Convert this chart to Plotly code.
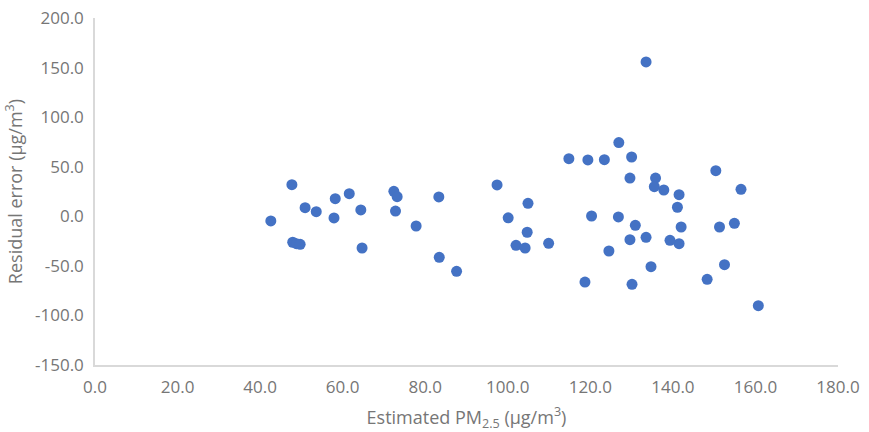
import plotly.graph_objects as go

# Estimated PM2.5 concentration (µg/m³) and residual error (µg/m³)
estimated_pm25 = [
    42.6, 47.7, 47.9, 48.8, 49.7, 50.9, 53.6, 58.2, 57.9, 61.6,
    64.4, 64.7, 72.4, 73.2, 72.8, 77.8, 83.3, 83.4, 87.6, 97.4,
    100.1, 102.0, 104.2, 104.9, 104.7, 109.9, 114.8, 119.4, 123.4, 126.9,
    130.0, 129.6, 133.5, 135.8, 135.5, 137.8, 141.5, 141.1, 142.0, 141.5,
    139.3, 150.4, 156.5, 154.9, 151.3, 152.5, 148.3, 160.7, 130.1, 118.7,
    134.7, 133.5, 129.6, 130.9, 126.8, 120.3, 124.5,
]
residual_error = [
    -4.7, 31.9, -26.2, -27.6, -28.3, 8.7, 4.6, 17.8, -1.7, 22.8,
    6.4, -32.0, 25.2, 19.8, 5.3, -9.8, 19.5, -41.4, -55.5, 31.6,
    -1.6, -29.3, -32.0, 13.1, -16.1, -27.3, 58.1, 56.8, 57.1, 74.3,
    59.8, 38.6, 155.7, 38.6, 29.9, 26.5, 21.8, 9.1, -10.8, -27.6,
    -24.2, 46.0, 27.2, -7.1, -10.8, -48.8, -63.6, -90.2, -68.6, -66.3,
    -50.8, -21.2, -23.6, -9.1, -0.7, 0.3, -35.0,
]

x_ticks = [0, 20, 40, 60, 80, 100, 120, 140, 160, 180]
y_ticks = [-150, -100, -50, 0, 50, 100, 150, 200]
x_tick_labels = [f"{v:.1f}" for v in x_ticks]
y_tick_labels = [f"{v:.1f}" for v in y_ticks]  # plain hyphen-minus

FONT = "Open Sans"
GREY_TEXT = "#767676"
AXIS_LINE = "#d9d9d9"

fig = go.Figure(
    go.Scatter(
        x=estimated_pm25,
        y=residual_error,
        mode="markers",
        marker=dict(size=11, color="#4472c4"),
        showlegend=False,
    )
)

fig.update_layout(
    width=869,
    height=432,
    margin=dict(l=95, r=31, t=18, b=67),
    paper_bgcolor="white",
    plot_bgcolor="white",
    font=dict(family=FONT, color=GREY_TEXT, size=17),
)

fig.update_xaxes(
    range=[0, 180],
    tickvals=x_ticks,
    ticktext=x_tick_labels,
    automargin=False,
    showgrid=False,
    zeroline=False,
    showline=True,
    linecolor=AXIS_LINE,
    linewidth=1.5,
    ticks="",
    ticklabelstandoff=6,
    tickfont=dict(size=17, color=GREY_TEXT),
    title=dict(
        text="Estimated PM<sub>2.5</sub> (μg/m<sup>3</sup>)",
        font=dict(size=18, color=GREY_TEXT),
        standoff=14,
    ),
)

fig.update_yaxes(
    range=[-150, 200],
    tickvals=y_ticks,
    ticktext=y_tick_labels,
    automargin=False,
    showgrid=False,
    zeroline=False,
    showline=True,
    linecolor=AXIS_LINE,
    linewidth=1.5,
    ticks="",
    ticklabelstandoff=6,
    tickfont=dict(size=17, color=GREY_TEXT),
    title=dict(
        text="Residual error (μg/m<sup>3</sup>)",
        font=dict(size=18, color=GREY_TEXT),
        standoff=8,
    ),
)

fig.write_html("out.html")
